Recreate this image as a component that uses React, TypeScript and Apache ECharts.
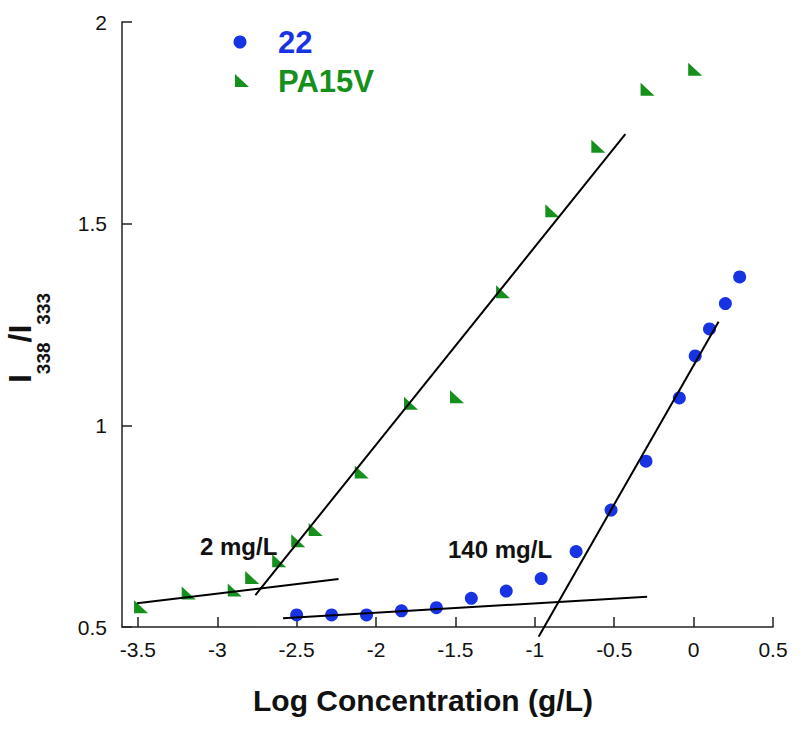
import React, { useEffect, useRef } from "react";
import * as echarts from "echarts";

// Tick values
const xTicks = [-3.5, -3, -2.5, -2, -1.5, -1, -0.5, 0, 0.5];
const yTicks = [0.5, 1, 1.5, 2];

// Series "22" (blue circles)
const s22X = [-2.5, -2.28, -2.06, -1.84, -1.62, -1.4, -1.18, -0.96, -0.74, -0.52, -0.3, -0.09, 0.01, 0.1, 0.2, 0.29];
const s22Y = [0.53, 0.53, 0.53, 0.54, 0.548, 0.571, 0.589, 0.62, 0.687, 0.79, 0.911, 1.068, 1.172, 1.239, 1.302, 1.368];

// Series "PA15V" (green triangles)
const paX = [-3.48, -3.18, -2.89, -2.78, -2.61, -2.49, -2.38, -2.09, -1.78, -1.49, -1.2, -0.89, -0.6, -0.29, 0.01];
const paY = [0.55, 0.584, 0.592, 0.623, 0.664, 0.714, 0.742, 0.884, 1.055, 1.071, 1.331, 1.532, 1.692, 1.833, 1.883];

// Fit lines (end points)
const paLowX = [-3.505, -2.236];
const paLowY = [0.559, 0.619];
const paSteepX = [-2.76, -0.43];
const paSteepY = [0.579, 1.722];
const s22LowX = [-2.586, -0.293];
const s22LowY = [0.5216, 0.575];
const s22SteepX = [-0.976, 0.157];
const s22SteepY = [0.476, 1.257];

const BLUE = "#1733e4";
const GREEN = "#16901c";
const FONT = "Liberation Sans, Arial, Helvetica, sans-serif";

const zip = (xs: number[], ys: number[]) => xs.map((x, i) => [x, ys[i]]);

const fitLine = (name: string, xs: number[], ys: number[]) => ({
  name,
  type: "line",
  data: zip(xs, ys),
  symbol: "none",
  clip: false,
  lineStyle: { color: "#000", width: 2 },
  silent: true,
  z: 3,
});

export default function App() {
  const ref = useRef<HTMLDivElement>(null);
  useEffect(() => {
    if (!ref.current) return;
    const chart = echarts.init(ref.current, null, { renderer: "svg" });
    chart.setOption({
      animation: false,
      backgroundColor: "#fff",
      grid: { left: 122, top: 22, width: 651, height: 605, containLabel: false },
      xAxis: {
        type: "value",
        min: -3.6,
        max: 0.5,
        axisLine: { show: true, onZero: false, lineStyle: { color: "#222", width: 1.5 } },
        axisTick: { show: true, inside: true, length: 10, customValues: xTicks, lineStyle: { color: "#222", width: 1.5 } },
        axisLabel: {
          customValues: xTicks,
          formatter: (v: number) => String(v),
          fontSize: 21,
          color: "#111",
          fontFamily: FONT,
          margin: 12,
        },
        splitLine: { show: false },
      },
      yAxis: {
        type: "value",
        min: 0.5,
        max: 2,
        interval: 0.5,
        axisLine: { show: true, onZero: false, lineStyle: { color: "#222", width: 1.5 } },
        axisTick: { show: true, inside: true, length: 10, lineStyle: { color: "#222", width: 1.5 } },
        axisLabel: {
          formatter: (v: number) => (yTicks.includes(v) ? String(v) : ""),
          fontSize: 21,
          color: "#111",
          fontFamily: FONT,
          margin: 15,
        },
        splitLine: { show: false },
      },
      series: [
        fitLine("fit1", paLowX, paLowY),
        fitLine("fit2", paSteepX, paSteepY),
        fitLine("fit3", s22LowX, s22LowY),
        fitLine("fit4", s22SteepX, s22SteepY),
        {
          name: "22",
          type: "scatter",
          data: zip(s22X, s22Y),
          symbol: "circle",
          symbolSize: 13,
          itemStyle: { color: BLUE, opacity: 1 },
          z: 2,
        },
        {
          name: "PA15V",
          type: "scatter",
          data: zip(paX, paY),
          symbol: "path://M0,0L0,10L10,10Z",
          symbolSize: [14, 13],
          itemStyle: { color: GREEN, opacity: 1 },
          z: 2,
        },
      ],
      graphic: [
        { type: "circle", shape: { cx: 240, cy: 42, r: 6.5 }, style: { fill: BLUE } },
        { type: "polygon", shape: { points: [[235, 74], [235, 87], [249, 87]] }, style: { fill: GREEN } },
        {
          type: "text",
          x: 278,
          y: 42,
          style: { text: "22", fill: BLUE, fontSize: 31, fontWeight: "bold", fontFamily: FONT, align: "left", verticalAlign: "middle" },
        },
        {
          type: "text",
          x: 278,
          y: 81,
          style: { text: "PA15V", fill: GREEN, fontSize: 31, fontWeight: "bold", fontFamily: FONT, align: "left", verticalAlign: "middle" },
        },
        {
          type: "text",
          x: 200,
          y: 546,
          style: { text: "2 mg/L", fill: "#111", fontSize: 24, fontWeight: "bold", fontFamily: FONT, align: "left", verticalAlign: "middle" },
        },
        {
          type: "text",
          x: 448,
          y: 549,
          style: { text: "140 mg/L", fill: "#111", fontSize: 24, fontWeight: "bold", fontFamily: FONT, align: "left", verticalAlign: "middle" },
        },
        {
          type: "text",
          x: 423,
          y: 700,
          style: {
            text: "Log Concentration (g/L)",
            fill: "#111",
            fontSize: 30,
            fontWeight: "bold",
            fontFamily: FONT,
            align: "center",
            verticalAlign: "middle",
          },
        },
        {
          type: "text",
          x: 20,
          y: 338,
          rotation: Math.PI / 2,
          style: {
            text: "{b|I}{s|338}{b|/I}{s|333}",
            fill: "#111",
            fontFamily: FONT,
            align: "center",
            verticalAlign: "middle",
            rich: {
              b: { fontSize: 32, fontWeight: "bold", fontFamily: FONT, fill: "#111", lineHeight: 66, verticalAlign: "middle" },
              s: { fontSize: 19, fontWeight: "bold", fontFamily: FONT, fill: "#111", lineHeight: 20, verticalAlign: "bottom" },
            },
          },
        },
      ],
    });
    return () => chart.dispose();
  }, []);
  return <div ref={ref} style={{ position: "absolute", left: 0, top: 0, width: 800, height: 730 }} />;
}
